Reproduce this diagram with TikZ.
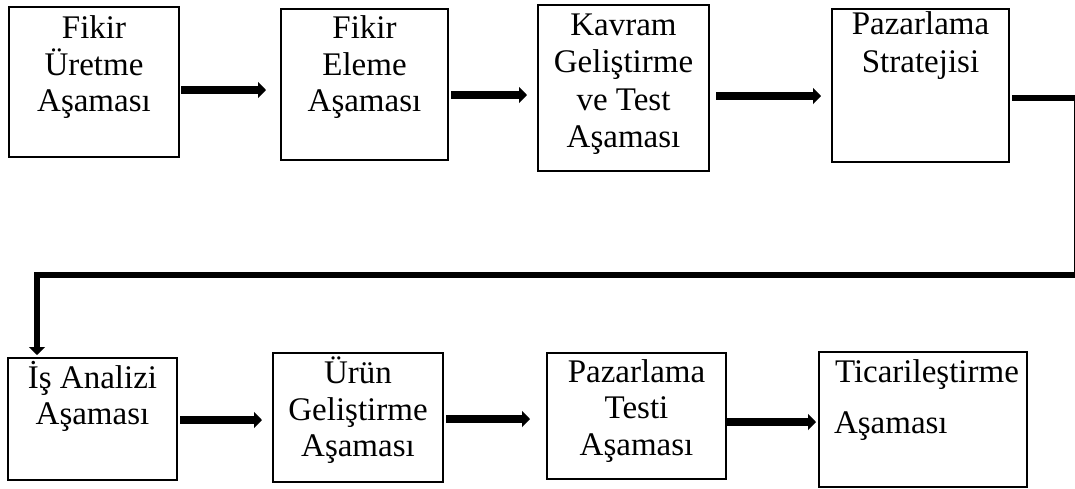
\documentclass[tikz,border=0pt]{standalone}
\usepackage{fontspec}
\setmainfont{Liberation Serif}
\usetikzlibrary{arrows.meta}
\tikzset{
  stage/.style={draw=black, line width=2.7pt, rectangle, inner sep=0pt, outer sep=0pt, fill=none},
  txt/.style={anchor=base, inner sep=0pt, outer sep=0pt, font=\fontsize{33pt}{36pt}\selectfont},
  ltxt/.style={txt, anchor=base west},
  arr/.style={line width=8pt, -{Triangle[width=16pt,length=8pt]}},
  conn/.style={line width=6.5pt, line join=miter, -{Triangle[width=16pt,length=8pt]}}
}
\begin{document}
\begin{tikzpicture}[x=1pt, y=-1pt]
\useasboundingbox (0,0) rectangle (1075,488);
\clip (0,0) rectangle (1075,488);
\fill[white] (0,0) rectangle (1075,488);

% boxes
\node[stage, minimum width=170pt, minimum height=150pt] (b1) at (94,82) {};
\node[stage, minimum width=167pt, minimum height=151pt] (b2) at (364.5,84.5) {};
\node[stage, minimum width=171pt, minimum height=166pt] (b3) at (623.5,88) {};
\node[stage, minimum width=177pt, minimum height=153pt] (b4) at (920.5,85.5) {};
\node[stage, minimum width=169pt, minimum height=122pt] (b5) at (92.5,419) {};
\node[stage, minimum width=170pt, minimum height=129pt] (b6) at (358,417.5) {};
\node[stage, minimum width=179pt, minimum height=126pt] (b7) at (636.5,416) {};
\node[stage, minimum width=208pt, minimum height=135pt] (b8) at (923,419.5) {};

% texts
\node[txt] (t1a) at (94,38) {Fikir};
\node[txt] (t1b) at (94,75) {Üretme};
\node[txt] (t1c) at (94,111) {Aşaması};
\node[txt] (t2a) at (364.5,38) {Fikir};
\node[txt] (t2b) at (364.5,75) {Eleme};
\node[txt] (t2c) at (364.5,111) {Aşaması};
\node[txt] (t3a) at (623.5,35) {Kavram};
\node[txt] (t3b) at (623.5,72) {Geliştirme};
\node[txt] (t3c) at (623.5,110) {ve Test};
\node[txt] (t3d) at (623.5,147) {Aşaması};
\node[txt] (t4a) at (920.5,34) {Pazarlama};
\node[txt] (t4b) at (920.5,72) {Stratejisi};
\node[txt] (t5a) at (92.5,388) {İş Analizi};
\node[txt] (t5b) at (92.5,424) {Aşaması};
\node[txt] (t6a) at (358,383) {Ürün};
\node[txt] (t6b) at (358,420) {Geliştirme};
\node[txt] (t6c) at (358,456) {Aşaması};
\node[txt] (t7a) at (636.5,382) {Pazarlama};
\node[txt] (t7b) at (636.5,418) {Testi};
\node[txt] (t7c) at (636.5,455) {Aşaması};
\node[ltxt] (t8a) at (835,382) {Ticarileştirme};
\node[ltxt] (t8b) at (834,433) {Aşaması};

% arrows
\draw[arr, shorten <=2pt, shorten >=15pt] (b1.east |- 0,90) -- (b2.west |- 0,90);
\draw[arr, shorten <=3pt, shorten >=11pt] (b2.east |- 0,95) -- (b3.west |- 0,95);
\draw[arr, shorten <=7pt, shorten >=11pt] (b3.east |- 0,96) -- (b4.west |- 0,96);
\draw[arr, shorten <=3pt, shorten >=11pt] (b5.east |- 0,420) -- (b6.west |- 0,420);
\draw[arr, shorten <=3pt, shorten >=17pt] (b6.east |- 0,419) -- (b7.west |- 0,419);
\draw[arr, shorten <=1pt, shorten >=3pt] (b7.east |- 0,422) -- (b8.west |- 0,422);

% long connector
\coordinate (c1) at (1077,98);
\coordinate (c2) at (1077,275);
\coordinate (c3) at (37,275);
\draw[conn, shorten <=3pt, shorten >=3pt] (b4.east |- c1) -- (c1) -- (c2) -- (c3) -- (c3 |- b5.north);
\end{tikzpicture}
\end{document}
